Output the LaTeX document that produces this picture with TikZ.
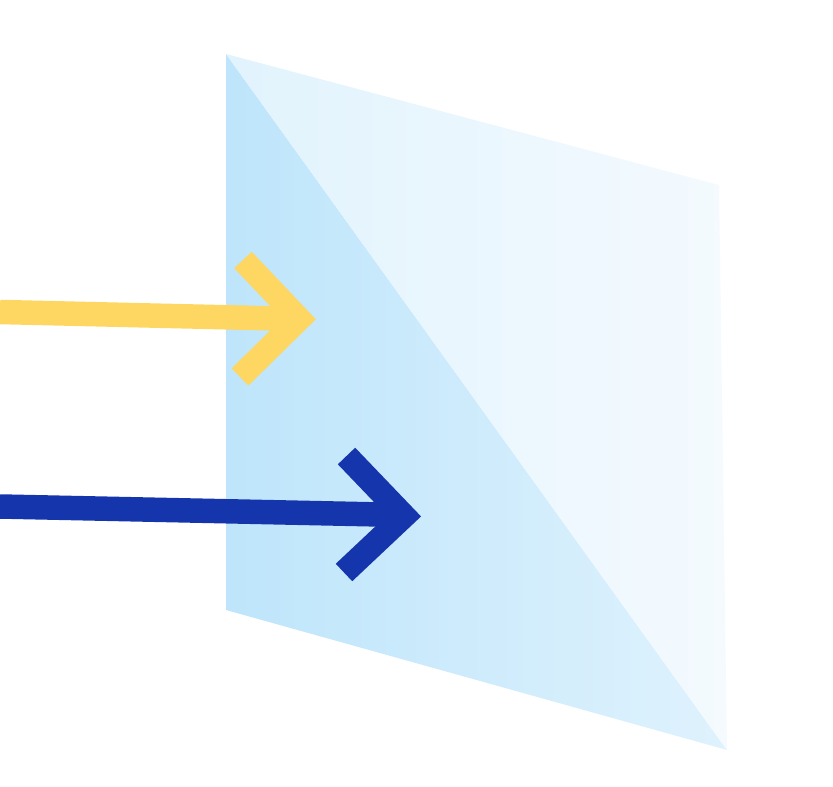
\documentclass[tikz,border=0pt]{standalone}
\usetikzlibrary{calc}
\definecolor{paneA}{HTML}{BEE5FB}
\definecolor{paneB}{HTML}{DFF2FD}
\definecolor{paneC}{HTML}{E1F3FD}
\definecolor{paneD}{HTML}{F4FAFE}
\definecolor{yel}{HTML}{FDD761}
\definecolor{blu}{HTML}{1535AD}
\tikzset{
  arrowline/.style={line width=24.5pt, line cap=butt},
  chevron/.style={line width=24pt, line join=miter, miter limit=10, line cap=butt},
}
\begin{document}
\begin{tikzpicture}[x=1pt,y=-1pt]
\useasboundingbox (0,0) rectangle (833,787);
% pane corners
\coordinate (TL) at (226,54);
\coordinate (TR) at (719,185);
\coordinate (BR) at (727,750);
\coordinate (BL) at (226,610);
\shade[left color=paneA, right color=paneB] (TL) -- (BR) -- (BL) -- cycle;
\shade[left color=paneC, right color=paneD] (TL) -- (TR) -- (BR) -- cycle;
% yellow arrow
\coordinate (ys) at (0,312);
\coordinate (ye) at (300,319);
\coordinate (yu) at (243,260);
\coordinate (yv) at (299,319);
\coordinate (yl) at (240,377);
\draw[yel, arrowline] (ys) -- (ye);
\draw[yel, chevron] (yu) -- (yv) -- (yl);
% blue arrow
\coordinate (bs) at (0,506.5);
\coordinate (be) at (405,515);
\coordinate (bu) at (346.5,456);
\coordinate (bv) at (404,516);
\coordinate (bl) at (344,572.5);
\draw[blu, arrowline] (bs) -- (be);
\draw[blu, chevron] (bu) -- (bv) -- (bl);
\end{tikzpicture}
\end{document}
